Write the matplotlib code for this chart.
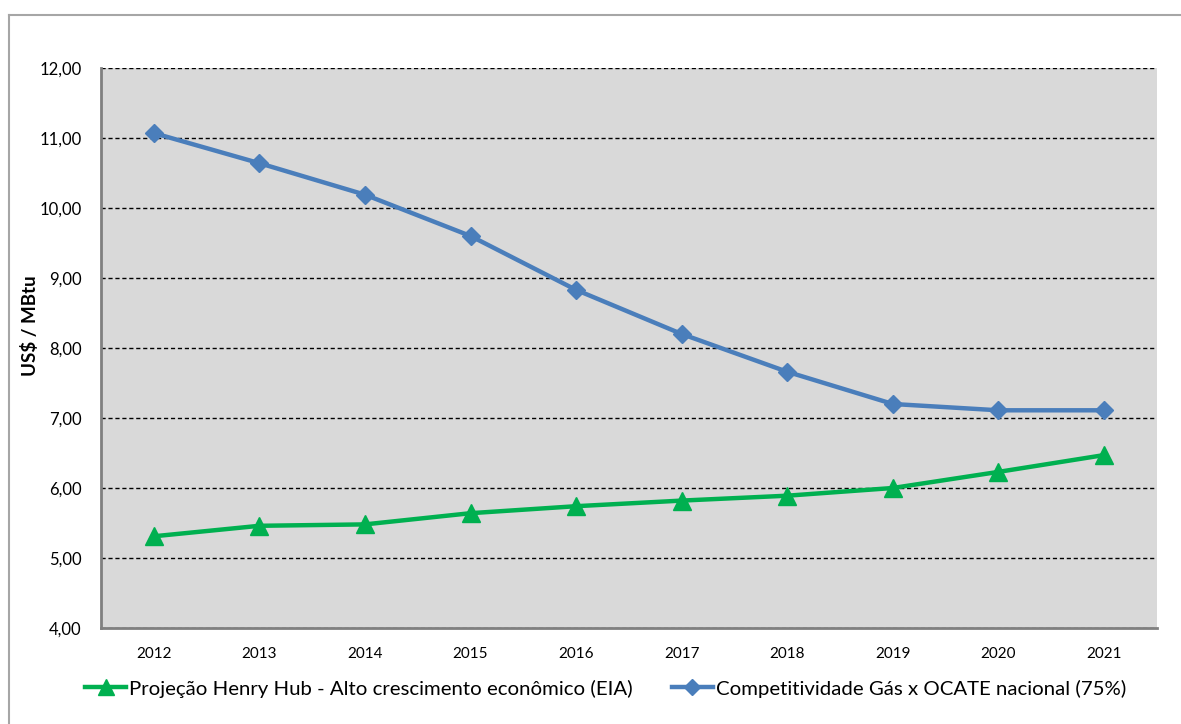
import matplotlib.pyplot as plt
from matplotlib.lines import Line2D
from matplotlib.ticker import FuncFormatter

anos = ["2012", "2013", "2014", "2015", "2016", "2017", "2018", "2019", "2020", "2021"]
henry_hub = [5.31, 5.46, 5.48, 5.64, 5.74, 5.82, 5.89, 6.00, 6.23, 6.47]
competitividade = [11.07, 10.64, 10.19, 9.60, 8.83, 8.20, 7.66, 7.20, 7.11, 7.11]

nome_hh = "Projeção Henry Hub - Alto crescimento econômico (EIA)"
nome_comp = "Competitividade Gás x OCATE nacional (75%)"

plt.rcParams["font.family"] = ["Lato", "DejaVu Sans"]

fig = plt.figure(figsize=(11.81, 7.24), dpi=100)
ax = fig.add_axes([0.0855, 0.1326, 0.894, 0.7735])

x = range(len(anos))
ax.plot(x, henry_hub, color="#00b050", lw=3.2, marker="^", ms=13,
        label=nome_hh, zorder=3)
ax.plot(x, competitividade, color="#4a7ebb", lw=3.2, marker="D", ms=9,
        label=nome_comp, zorder=3)

ax.set_facecolor("#d9d9d9")
ax.set_xlim(-0.5, len(anos) - 0.5)
ax.set_ylim(4, 12)
ax.set_yticks(range(4, 13))
ax.yaxis.set_major_formatter(FuncFormatter(lambda v, p: f"{v:.2f}".replace(".", ",")))
ax.set_xticks(list(x))
ax.set_xticklabels(anos)
ax.tick_params(axis="both", length=0, labelsize=11)
ax.tick_params(axis="y", pad=14, labelsize=12)
ax.tick_params(axis="x", pad=14)

ax.yaxis.grid(True, color="black", ls=(0, (3, 2)), lw=1)
ax.set_axisbelow(True)
for s in ["top", "right"]:
    ax.spines[s].set_visible(False)
for s in ["left", "bottom"]:
    ax.spines[s].set_color("#808080")
    ax.spines[s].set_linewidth(2)

ax.set_ylabel("US$ / MBtu", fontsize=13.5, fontweight="bold")
ax.yaxis.set_label_coords(-0.0586, 0.54)

ax.legend(loc="center", bbox_to_anchor=(0.478, -0.108), ncol=2, frameon=False,
          fontsize=14.7, handlelength=2.0, columnspacing=1.9, handletextpad=0.15,
          markerscale=0.85)

# moldura cinza do gráfico
fig.add_artist(Line2D([9 / 1181, 1.0], [1 - 15 / 724, 1 - 15 / 724],
                      transform=fig.transFigure, color="#a6a6a6", lw=1.5))
fig.add_artist(Line2D([9 / 1181, 9 / 1181], [0, 1 - 15 / 724],
                      transform=fig.transFigure, color="#a6a6a6", lw=1.5))

fig.savefig("out.png", dpi=100)
